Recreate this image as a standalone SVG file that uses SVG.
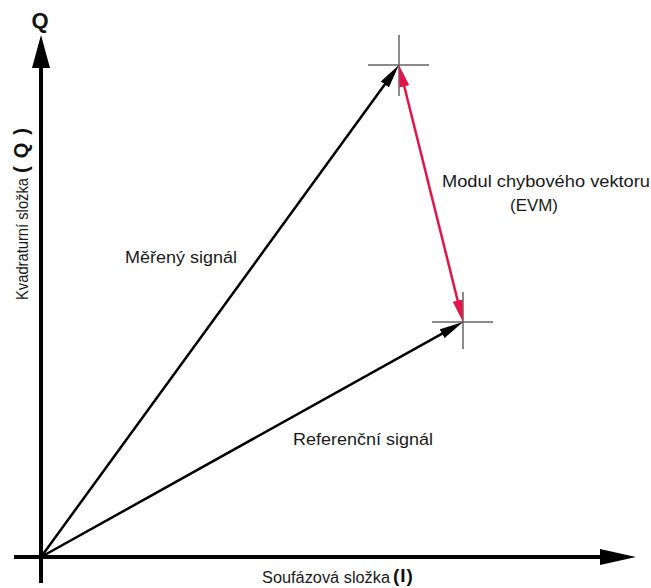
<svg xmlns="http://www.w3.org/2000/svg" width="651" height="588" viewBox="0 0 651 588">
<style>
.lbl{font-family:"Liberation Sans",Arial,sans-serif;font-size:16px;fill:#1a1a1a}
.bold{font-family:"Liberation Sans",Arial,sans-serif;font-weight:bold;fill:#111}
.axis{stroke:#000;stroke-width:4;fill:none}
.vec{stroke:#000;stroke-width:2.5;fill:none}
.err{stroke:#e0164a;stroke-width:2.5;fill:none}
.cross{stroke:#666;stroke-width:1.5;fill:none}
</style>
<defs>
<marker id="ahB" viewBox="0 0 24 10" markerWidth="24" markerHeight="10" refX="14" refY="5" orient="auto" markerUnits="userSpaceOnUse">
<path d="M0,0 L24,5 L0,10 z" fill="#000"/>
</marker>
<marker id="ahR" viewBox="0 0 22 10" markerWidth="22" markerHeight="10" refX="12" refY="5" orient="auto-start-reverse" markerUnits="userSpaceOnUse">
<path d="M0,0 L22,5 L0,10 z" fill="#e0164a"/>
</marker>
</defs>
<rect width="651" height="588" fill="#fff"/>
<g id="axes">
<line class="axis" x1="41" y1="583" x2="41" y2="62"/>
<polygon points="41,35 50,68 32,68" fill="#000"/>
<line class="axis" x1="14" y1="557" x2="605" y2="557"/>
<polygon points="636,557 600,549 600,565" fill="#000"/>
</g>
<g id="crosshairs">
<path class="cross" d="M368,65 H429 M399,35 V96"/>
<path class="cross" d="M432,322 H493 M463,292 V349"/>
</g>
<g id="connectors">
<line id="measured" class="vec" x1="41" y1="557" x2="393.1" y2="73.1" marker-end="url(#ahB)"/>
<line id="reference" class="vec" x1="41" y1="557" x2="454.3" y2="326.9" marker-end="url(#ahB)"/>
<line id="evm" class="err" x1="401.4" y1="74.7" x2="460.6" y2="312.3" marker-start="url(#ahR)" marker-end="url(#ahR)"/>
</g>
<g id="labels">
<text class="bold" x="40" y="28" font-size="22" text-anchor="middle">Q</text>
<text class="lbl" x="125" y="263" textLength="112" lengthAdjust="spacingAndGlyphs">Měřený signál</text>
<text class="lbl" x="293" y="445" textLength="140" lengthAdjust="spacingAndGlyphs">Referenční signál</text>
<text class="lbl" x="442" y="187" textLength="208" lengthAdjust="spacingAndGlyphs">Modul chybového vektoru</text>
<text class="lbl" x="510" y="211" textLength="48" lengthAdjust="spacingAndGlyphs">(EVM)</text>
<text class="lbl" x="262" y="583" textLength="128" lengthAdjust="spacingAndGlyphs">Soufázová složka</text>
<text class="bold" x="393" y="582" font-size="19" letter-spacing="1">(I)</text>
<g transform="translate(28,300) rotate(-90)">
<text class="lbl" x="0" y="0" textLength="122" lengthAdjust="spacingAndGlyphs">Kvadraturní složka</text>
<text class="bold" x="127" y="0" font-size="20" letter-spacing="8">(Q)</text>
</g>
</g>
</svg>
